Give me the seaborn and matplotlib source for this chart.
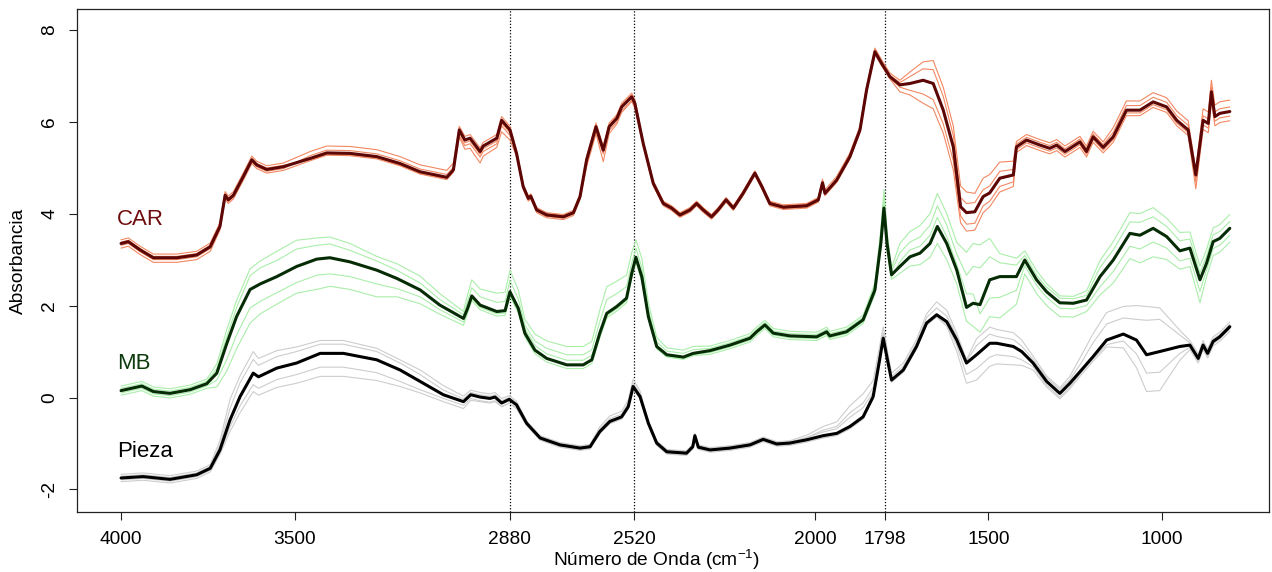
import numpy as np
import pandas as pd
import matplotlib.pyplot as plt
import seaborn as sns

# ---------- data ----------
# wavenumber (cm-1), mean absorbance, offsets of the single spectra from the mean

car_wn = [4000, 3979, 3945, 3907, 3839, 3782, 3743, 3715, 3700, 3691,
          3676, 3648, 3623, 3609, 3580, 3532, 3455, 3407, 3340, 3263,
          3196, 3138, 3061, 3042, 3025, 3009, 2994, 2965, 2956, 2917,
          2903, 2879, 2860, 2841, 2826, 2819, 2802, 2773, 2725, 2696,
          2677, 2658, 2631, 2610, 2593, 2571, 2557, 2528, 2519, 2495,
          2466, 2437, 2413, 2389, 2360, 2341, 2322, 2298, 2279, 2256,
          2235, 2207, 2173, 2153, 2130, 2091, 2024, 1990, 1978, 1971,
          1937, 1899, 1870, 1851, 1827, 1808, 1784, 1755, 1726, 1688,
          1659, 1630, 1601, 1580, 1563, 1539, 1515, 1496, 1467, 1428,
          1419, 1390, 1351, 1323, 1303, 1279, 1236, 1217, 1198, 1169,
          1140, 1102, 1063, 1025, 986, 957, 924, 902, 881, 866,
          857, 847, 833, 804]
car_mean = [3.35, 3.39, 3.21, 3.04, 3.04, 3.10, 3.28, 3.72, 4.40, 4.30,
            4.40, 4.80, 5.17, 5.06, 4.96, 5.02, 5.20, 5.32, 5.31, 5.24,
            5.09, 4.91, 4.79, 4.95, 5.82, 5.60, 5.64, 5.35, 5.47, 5.64,
            6.03, 5.82, 5.31, 4.59, 4.33, 4.38, 4.08, 3.97, 3.93, 4.02,
            4.37, 5.17, 5.89, 5.38, 5.89, 6.07, 6.32, 6.54, 6.40, 5.53,
            4.66, 4.22, 4.12, 3.97, 4.08, 4.22, 4.08, 3.93, 4.08, 4.30,
            4.12, 4.44, 4.88, 4.59, 4.22, 4.14, 4.17, 4.30, 4.67, 4.44,
            4.73, 5.24, 5.82, 6.69, 7.52, 7.27, 6.98, 6.80, 6.83, 6.90,
            6.83, 6.25, 5.45, 4.15, 4.02, 4.04, 4.37, 4.45, 4.77, 4.84,
            5.45, 5.60, 5.49, 5.42, 5.49, 5.35, 5.56, 5.35, 5.67, 5.44,
            5.67, 6.25, 6.25, 6.43, 6.32, 6.03, 5.82, 4.84, 6.03, 5.96,
            6.65, 6.11, 6.18, 6.22]
car_off_a = [0.08, 0.08, 0.08, 0.08, 0.08, 0.08, 0.08, 0.08, 0.08, 0.08,
             0.08, 0.08, 0.08, 0.08, 0.08, 0.08, 0.15, 0.15, 0.15, 0.15,
             0.15, 0.15, 0.15, 0.15, 0.08, 0.08, 0.08, 0.08, 0.08, 0.08,
             0.08, 0.08, 0.05, 0.05, 0.05, 0.05, 0.05, 0.05, 0.05, 0.05,
             0.05, 0.08, 0.08, 0.08, 0.08, 0.08, 0.08, 0.08, 0.08, 0.05,
             0.05, 0.05, 0.05, 0.05, 0.05, 0.05, 0.05, 0.05, 0.05, 0.05,
             0.05, 0.05, 0.05, 0.05, 0.05, 0.05, 0.05, 0.05, 0.08, 0.08,
             0.08, 0.08, 0.08, 0.08, 0.08, 0.08, 0.08, 0.10, 0.25, 0.40,
             0.50, 0.50, 0.45, 0.45, 0.45, 0.40, 0.40, 0.40, 0.35, 0.30,
             0.12, 0.12, 0.12, 0.12, 0.12, 0.12, 0.12, 0.12, 0.12, 0.12,
             0.20, 0.20, 0.20, 0.20, 0.20, 0.20, 0.20, 0.10, 0.25, 0.25,
             0.25, 0.25, 0.25, 0.25]
car_off_b = [-0.10, -0.10, -0.10, -0.10, -0.10, -0.10, -0.10, -0.08, -0.08, -0.08,
             -0.08, -0.08, -0.08, -0.08, -0.08, -0.08, -0.05, -0.05, -0.05, -0.05,
             -0.05, -0.05, -0.05, -0.05, -0.15, -0.20, -0.22, -0.25, -0.22, -0.20,
             -0.25, -0.22, -0.06, -0.06, -0.06, -0.06, -0.06, -0.06, -0.06, -0.06,
             -0.06, -0.15, -0.15, -0.25, -0.15, -0.12, -0.12, -0.10, -0.10, -0.05,
             -0.05, -0.05, -0.05, -0.05, -0.05, -0.05, -0.05, -0.05, -0.05, -0.05,
             -0.05, -0.05, -0.05, -0.05, -0.05, -0.05, -0.05, -0.05, -0.05, -0.05,
             -0.05, -0.05, -0.05, -0.05, -0.05, -0.05, -0.05, -0.15, -0.25, -0.50,
             -0.55, -0.50, -0.50, -0.35, -0.40, -0.40, -0.35, -0.30, -0.30, -0.25,
             -0.12, -0.12, -0.12, -0.12, -0.12, -0.12, -0.12, -0.12, -0.12, -0.12,
             -0.12, -0.12, -0.12, -0.12, -0.12, -0.12, -0.12, -0.30, -0.20, -0.20,
             -0.20, -0.20, -0.20, -0.20]
car_off_c = [-0.04, -0.04, -0.04, -0.04, -0.04, -0.04, -0.04, -0.04, -0.04, -0.04,
             -0.04, -0.04, -0.04, -0.04, -0.04, -0.04, 0.06, 0.06, 0.06, 0.06,
             0.06, 0.06, 0.06, 0.06, -0.12, -0.12, -0.12, -0.12, -0.12, -0.12,
             -0.12, -0.12, 0.03, 0.03, 0.03, 0.03, 0.03, 0.03, 0.03, 0.03,
             0.03, -0.08, -0.08, -0.08, -0.08, -0.08, -0.08, -0.08, -0.08, 0.03,
             0.03, 0.03, 0.03, 0.03, 0.03, 0.03, 0.03, 0.03, 0.03, 0.03,
             0.03, 0.03, 0.03, 0.03, 0.03, 0.03, 0.03, 0.03, 0.03, 0.03,
             0.03, 0.03, 0.03, 0.03, 0.03, 0.03, 0.03, 0.05, 0.15, 0.25,
             0.30, 0.30, 0.25, 0.20, 0.20, 0.20, 0.15, 0.15, 0.15, 0.12,
             0.06, 0.06, 0.06, 0.06, 0.06, 0.06, 0.06, 0.06, 0.06, 0.06,
             0.10, 0.10, 0.10, 0.10, 0.10, 0.10, 0.10, -0.15, 0.10, 0.10,
             0.10, 0.10, 0.10, 0.10]
car_off_d = [0.03, 0.03, 0.03, 0.03, 0.03, 0.03, 0.03, 0.03, 0.03, 0.03,
             0.03, 0.03, 0.03, 0.03, 0.03, 0.03, -0.03, -0.03, -0.03, -0.03,
             -0.03, -0.03, -0.03, -0.03, -0.06, -0.06, -0.06, -0.06, -0.06, -0.06,
             -0.06, -0.06, -0.03, -0.03, -0.03, -0.03, -0.03, -0.03, -0.03, -0.03,
             -0.03, 0.04, 0.04, 0.04, 0.04, 0.04, 0.04, 0.04, 0.04, -0.03,
             -0.03, -0.03, -0.03, -0.03, -0.03, -0.03, -0.03, -0.03, -0.03, -0.03,
             -0.03, -0.03, -0.03, -0.03, -0.03, -0.03, -0.03, -0.03, -0.03, -0.03,
             -0.03, -0.03, -0.03, -0.03, -0.03, -0.03, -0.03, -0.05, -0.15, -0.30,
             -0.35, -0.30, -0.30, -0.20, -0.25, -0.25, -0.20, -0.18, -0.18, -0.15,
             -0.06, -0.06, -0.06, -0.06, -0.06, -0.06, -0.06, -0.06, -0.06, -0.06,
             -0.06, -0.06, -0.06, -0.06, -0.06, -0.06, -0.06, 0.05, -0.10, -0.10,
             -0.10, -0.10, -0.10, -0.10]

mb_wn = [4000, 3940, 3907, 3859, 3801, 3753, 3724, 3695, 3667, 3628,
         3599, 3551, 3494, 3436, 3398, 3340, 3263, 3205, 3138, 3081,
         3013, 3001, 2989, 2965, 2917, 2893, 2879, 2855, 2836, 2807,
         2773, 2715, 2668, 2643, 2620, 2600, 2571, 2543, 2528, 2516,
         2499, 2480, 2456, 2427, 2379, 2351, 2302, 2245, 2187, 2168,
         2144, 2120, 2072, 1995, 1966, 1957, 1909, 1861, 1827, 1810,
         1801, 1792, 1779, 1755, 1726, 1697, 1668, 1647, 1620, 1591,
         1563, 1544, 1524, 1496, 1467, 1419, 1395, 1361, 1332, 1294,
         1255, 1217, 1178, 1140, 1092, 1063, 1025, 986, 948, 919,
         890, 871, 852, 833, 804]
mb_mean = [0.15, 0.25, 0.13, 0.09, 0.17, 0.30, 0.53, 1.18, 1.76, 2.35,
           2.47, 2.63, 2.85, 3.01, 3.04, 2.95, 2.77, 2.59, 2.34, 2.01,
           1.72, 1.94, 2.21, 2.01, 1.87, 1.89, 2.30, 1.94, 1.40, 1.03,
           0.85, 0.71, 0.71, 0.82, 1.40, 1.83, 1.98, 2.16, 2.70, 3.05,
           2.63, 1.76, 1.11, 0.93, 0.88, 0.96, 1.02, 1.14, 1.29, 1.43,
           1.58, 1.40, 1.34, 1.32, 1.43, 1.34, 1.43, 1.69, 2.34, 3.35,
           4.12, 3.35, 2.67, 2.85, 3.06, 3.14, 3.35, 3.72, 3.35, 2.77,
           1.96, 2.05, 2.02, 2.56, 2.63, 2.63, 2.99, 2.56, 2.30, 2.06,
           2.05, 2.12, 2.63, 2.99, 3.57, 3.53, 3.68, 3.50, 3.19, 3.25,
           2.56, 2.92, 3.39, 3.46, 3.68]
mb_off_a = [0.10, 0.10, 0.10, 0.10, 0.10, 0.10, 0.20, 0.30, 0.35, 0.45,
            0.50, 0.55, 0.57, 0.46, 0.45, 0.40, 0.30, 0.32, 0.30, 0.25,
            0.15, 0.30, 0.35, 0.35, 0.40, 0.40, 0.47, 0.40, 0.30, 0.35,
            0.38, 0.40, 0.40, 0.40, 0.50, 0.58, 0.55, 0.50, 0.45, 0.38,
            0.40, 0.30, 0.20, 0.15, 0.15, 0.15, 0.10, 0.10, 0.10, 0.10,
            0.10, 0.10, 0.10, 0.10, 0.10, 0.10, 0.10, 0.10, 0.15, 0.30,
            0.40, 0.25, 0.15, 0.50, 0.55, 0.60, 0.65, 0.72, 0.65, 0.60,
            1.20, 1.30, 1.30, 0.90, 0.50, 0.40, 0.20, 0.20, 0.18, 0.15,
            0.15, 0.20, 0.35, 0.40, 0.45, 0.47, 0.45, 0.40, 0.40, 0.35,
            0.30, 0.30, 0.30, 0.30, 0.30]
mb_off_b = [-0.10, -0.10, -0.10, -0.10, -0.10, -0.10, -0.30, -0.60, -0.70, -0.73,
            -0.65, -0.60, -0.58, -0.66, -0.62, -0.60, -0.58, -0.40, -0.30, -0.20,
            -0.15, -0.10, -0.10, -0.10, -0.10, -0.10, -0.10, -0.10, -0.08, -0.08,
            -0.08, -0.08, -0.08, -0.08, -0.10, -0.10, -0.10, -0.10, -0.10, -0.10,
            -0.10, -0.05, -0.05, -0.05, -0.05, -0.05, -0.08, -0.08, -0.08, -0.08,
            -0.08, -0.08, -0.08, -0.08, -0.08, -0.08, -0.08, -0.08, -0.10, -0.15,
            -0.20, -0.15, -0.10, -0.15, -0.20, -0.25, -0.30, -0.37, -0.35, -0.30,
            -0.30, -0.50, -0.60, -0.80, -0.90, -0.60, -0.30, -0.30, -0.30, -0.30,
            -0.30, -0.25, -0.40, -0.50, -0.55, -0.60, -0.62, -0.50, -0.40, -0.40,
            -0.50, -0.30, -0.30, -0.30, -0.30]
mb_off_c = [0.05, 0.05, 0.05, 0.05, 0.05, 0.05, 0.10, 0.15, 0.20, 0.30,
            0.35, 0.35, 0.38, 0.30, 0.30, 0.25, 0.20, 0.18, 0.15, 0.12,
            0.08, 0.15, 0.18, 0.18, 0.20, 0.20, 0.25, 0.20, 0.18, 0.20,
            0.22, 0.22, 0.22, 0.22, 0.25, 0.30, 0.28, 0.25, 0.22, 0.20,
            0.20, 0.15, 0.10, 0.08, 0.08, 0.08, 0.05, 0.05, 0.05, 0.05,
            0.05, 0.05, 0.05, 0.05, 0.05, 0.05, 0.05, 0.05, 0.08, 0.15,
            0.20, 0.12, 0.08, 0.30, 0.32, 0.35, 0.40, 0.45, 0.40, 0.35,
            0.70, 0.80, 0.80, 0.50, 0.30, 0.25, 0.10, 0.10, 0.10, 0.10,
            0.10, 0.10, 0.20, 0.22, 0.25, 0.28, 0.25, 0.22, 0.22, 0.20,
            0.15, 0.15, 0.15, 0.15, 0.15]
mb_off_d = [-0.05, -0.05, -0.05, -0.05, -0.05, -0.05, -0.15, -0.35, -0.40, -0.40,
            -0.38, -0.35, -0.35, -0.35, -0.35, -0.32, -0.30, -0.22, -0.15, -0.10,
            -0.08, -0.05, -0.05, -0.05, -0.05, -0.05, -0.05, -0.05, 0.10, 0.10,
            0.10, 0.10, 0.10, 0.10, -0.05, -0.05, -0.05, -0.05, -0.05, -0.05,
            -0.05, -0.03, -0.03, -0.03, -0.03, -0.03, -0.04, -0.04, -0.04, -0.04,
            -0.04, -0.04, -0.04, -0.04, -0.04, -0.04, -0.04, -0.04, -0.05, -0.08,
            -0.10, -0.08, -0.05, 0.10, 0.15, 0.15, 0.18, 0.20, 0.15, 0.12,
            0.30, 0.20, -0.20, -0.40, -0.45, -0.30, -0.12, -0.12, -0.12, -0.12,
            -0.12, -0.12, -0.22, -0.25, -0.28, -0.30, -0.30, -0.25, -0.22, -0.22,
            -0.25, -0.15, -0.15, -0.15, -0.15]

pieza_wn = [4000, 3936, 3859, 3782, 3743, 3715, 3686, 3657, 3619, 3604,
            3551, 3494, 3426, 3359, 3263, 3196, 3138, 3071, 3013, 2992,
            2965, 2937, 2922, 2903, 2881, 2860, 2831, 2792, 2735, 2677,
            2648, 2620, 2591, 2557, 2538, 2524, 2504, 2480, 2456, 2427,
            2370, 2352, 2346, 2336, 2302, 2245, 2187, 2149, 2110, 2072,
            2024, 1976, 1937, 1899, 1861, 1832, 1815, 1803, 1789, 1779,
            1745, 1707, 1678, 1649, 1620, 1591, 1563, 1534, 1496, 1476,
            1428, 1404, 1371, 1332, 1294, 1265, 1236, 1198, 1159, 1111,
            1073, 1044, 1006, 948, 919, 895, 881, 868, 852, 833,
            804]
pieza_mean = [-1.75, -1.72, -1.78, -1.68, -1.54, -1.14, -0.49, 0.02, 0.53, 0.45,
              0.64, 0.75, 0.96, 0.96, 0.82, 0.60, 0.35, 0.06, -0.09, 0.06,
              0.01, -0.02, 0.01, -0.12, -0.04, -0.16, -0.56, -0.88, -1.03, -1.10,
              -1.07, -0.74, -0.52, -0.42, -0.20, 0.24, 0.02, -0.56, -0.99, -1.18,
              -1.21, -1.07, -0.83, -1.08, -1.14, -1.10, -1.03, -0.91, -1.01, -0.99,
              -0.92, -0.83, -0.78, -0.63, -0.42, 0.02, 0.75, 1.29, 0.75, 0.38,
              0.60, 1.11, 1.62, 1.80, 1.65, 1.25, 0.75, 0.93, 1.18, 1.18,
              1.11, 1.00, 0.75, 0.35, 0.09, 0.31, 0.56, 0.89, 1.25, 1.38,
              1.25, 0.93, 1.00, 1.11, 1.14, 0.85, 1.14, 0.96, 1.22, 1.32,
              1.54]
pieza_off_a = [0.08, 0.08, 0.08, 0.08, 0.08, 0.20, 0.45, 0.45, 0.47, 0.40,
               0.38, 0.35, 0.28, 0.28, 0.25, 0.22, 0.25, 0.20, 0.12, 0.10,
               0.10, 0.10, 0.10, 0.10, 0.08, 0.08, 0.05, 0.05, 0.05, 0.05,
               0.05, 0.10, 0.12, 0.12, 0.15, 0.16, 0.12, 0.05, 0.05, 0.05,
               0.05, 0.05, 0.05, 0.05, 0.05, 0.05, 0.05, 0.05, 0.05, 0.05,
               0.10, 0.20, 0.25, 0.45, 0.50, 0.35, 0.30, 0.25, 0.20, 0.15,
               0.15, 0.15, 0.20, 0.28, 0.25, 0.15, 0.07, 0.35, 0.35, 0.30,
               0.30, 0.25, 0.15, 0.12, 0.12, 0.15, 0.30, 0.50, 0.60, 0.60,
               0.75, 1.05, 0.95, 0.35, 0.10, 0.10, 0.10, 0.10, 0.10, 0.10,
               0.10]
pieza_off_b = [-0.08, -0.08, -0.08, -0.08, -0.08, -0.10, -0.25, -0.35, -0.40, -0.40,
               -0.42, -0.44, -0.50, -0.50, -0.45, -0.36, -0.25, -0.15, -0.15, -0.12,
               -0.10, -0.10, -0.10, -0.08, -0.08, -0.08, -0.05, -0.05, -0.05, -0.05,
               -0.05, -0.05, -0.05, -0.05, -0.05, -0.05, -0.05, -0.05, -0.05, -0.05,
               -0.05, -0.05, -0.05, -0.05, -0.05, -0.05, -0.05, -0.05, -0.05, -0.05,
               -0.05, -0.05, -0.05, -0.05, -0.05, -0.05, -0.05, -0.05, -0.05, -0.05,
               -0.05, -0.05, -0.05, -0.05, -0.10, -0.25, -0.44, -0.55, -0.50, -0.45,
               -0.40, -0.30, -0.15, -0.12, -0.12, -0.12, -0.10, -0.10, -0.15, -0.30,
               -0.60, -0.80, -0.85, -0.30, -0.10, -0.10, -0.10, -0.10, -0.10, -0.10,
               -0.10]
pieza_off_c = [0.04, 0.04, 0.04, 0.04, 0.04, 0.10, 0.25, 0.30, 0.30, 0.25,
               0.25, 0.25, 0.20, 0.20, 0.18, 0.15, 0.15, 0.10, 0.06, 0.05,
               0.05, 0.05, 0.05, 0.05, 0.04, 0.04, 0.03, 0.03, 0.03, 0.03,
               0.03, 0.05, 0.06, 0.06, 0.08, 0.08, 0.06, 0.03, 0.03, 0.03,
               0.03, 0.03, 0.03, 0.03, 0.03, 0.03, 0.03, 0.03, 0.03, 0.03,
               0.05, 0.12, 0.15, 0.30, 0.30, 0.20, 0.15, 0.12, 0.10, 0.08,
               0.08, 0.08, 0.12, 0.15, 0.12, 0.08, 0.04, 0.20, 0.20, 0.15,
               0.15, 0.12, 0.08, 0.08, 0.08, 0.08, 0.15, 0.30, 0.35, 0.35,
               0.45, 0.75, 0.70, 0.25, 0.05, 0.05, 0.05, 0.05, 0.05, 0.05,
               0.05]
pieza_off_d = [-0.04, -0.04, -0.04, -0.04, -0.04, -0.05, -0.15, -0.20, -0.25, -0.25,
               -0.25, -0.25, -0.30, -0.30, -0.28, -0.25, -0.18, -0.08, -0.08, -0.08,
               -0.08, -0.08, -0.08, -0.08, -0.08, -0.08, -0.03, -0.03, -0.03, -0.03,
               -0.03, -0.03, -0.03, -0.03, -0.03, -0.03, -0.03, -0.03, -0.03, -0.03,
               -0.03, -0.03, -0.03, -0.03, -0.03, -0.03, -0.03, -0.03, -0.03, -0.03,
               0.05, 0.08, 0.10, 0.20, 0.20, 0.10, 0.08, 0.06, 0.05, 0.04,
               -0.03, -0.03, -0.03, -0.03, -0.05, -0.12, -0.25, -0.30, -0.30, -0.25,
               -0.22, -0.18, -0.08, -0.08, -0.08, -0.08, -0.05, -0.05, -0.10, -0.15,
               -0.30, -0.40, -0.45, -0.15, -0.05, -0.05, -0.05, -0.05, -0.05, -0.05,
               -0.05]

marked_wn = [2880, 2520, 1798]
xtick_vals = [4000, 3500, 2880, 2520, 2000, 1798, 1500, 1000]
ytick_vals = [-2, 0, 2, 4, 6, 8]

# ---------- styling ----------
spectra = {
    "CAR": (car_wn, car_mean, [car_off_a, car_off_b, car_off_c, car_off_d]),
    "MB": (mb_wn, mb_mean, [mb_off_a, mb_off_b, mb_off_c, mb_off_d]),
    "Pieza": (pieza_wn, pieza_mean, [pieza_off_a, pieza_off_b, pieza_off_c, pieza_off_d]),
}
mean_colors = {"CAR": "#5c0606", "MB": "#062c06", "Pieza": "#000000"}
rep_colors = {"CAR": "#f28862", "MB": "#aaeeaa", "Pieza": "#cdcdcd"}
label_colors = {"CAR": "#6e0c0c", "MB": "#0c3a0c", "Pieza": "#000000"}
label_pos = {"CAR": (4012, 3.87), "MB": (4012, 0.75), "Pieza": (4012, -1.17)}

# ---------- long tables for seaborn ----------
rep_frames, mean_frames = [], []
for g, (wn, mean, offs) in spectra.items():
    mean = np.asarray(mean)
    for k, off in enumerate(offs):
        rep_frames.append(pd.DataFrame({"wn": wn, "absorb": mean + np.asarray(off),
                                        "group": g, "rep": k}))
    mean_frames.append(pd.DataFrame({"wn": wn, "absorb": mean, "group": g}))
reps = pd.concat(rep_frames, ignore_index=True)
means = pd.concat(mean_frames, ignore_index=True)

sns.set_theme(style="ticks")
plt.rcParams["font.family"] = ["Liberation Sans", "DejaVu Sans"]
plt.rcParams["axes.unicode_minus"] = False
plt.rcParams["mathtext.fontset"] = "custom"
plt.rcParams["mathtext.rm"] = "Liberation Sans"
plt.rcParams["mathtext.default"] = "regular"
plt.rcParams["text.color"] = "black"
plt.rcParams["axes.labelcolor"] = "black"
plt.rcParams["xtick.labelcolor"] = "black"
plt.rcParams["ytick.labelcolor"] = "black"

fig = plt.figure(figsize=(12.72, 5.72), dpi=100)
ax = fig.add_axes([77 / 1272, 60 / 572, 1192 / 1272, 503 / 572])

sns.lineplot(data=reps, x="wn", y="absorb", hue="group", units="rep", estimator=None,
             palette=rep_colors, lw=0.8, sort=False, legend=False, ax=ax)
sns.lineplot(data=means, x="wn", y="absorb", hue="group", estimator=None,
             palette=mean_colors, lw=2.2, sort=False, legend=False, ax=ax)

for w in marked_wn:
    ax.axvline(w, color="black", ls=(0, (1, 1.5)), lw=0.9, zorder=0)

for g, (x, y) in label_pos.items():
    ax.text(x, y, g, color=label_colors[g], fontsize=16, ha="left", va="center")

ax.set_xlim(4127, 691)
ax.set_ylim(-2.49, 8.45)
ax.set_xticks(xtick_vals)
ax.set_xticklabels([str(v) for v in xtick_vals])
ax.set_yticks(ytick_vals)
ax.set_yticklabels([str(v) for v in ytick_vals])
for lab in ax.get_yticklabels():
    lab.set_rotation(90)
    lab.set_va("center")
ax.tick_params(axis="both", direction="out", length=5.5, width=0.8,
               color="#222222", labelcolor="black", labelsize=13.8, pad=8)
for s in ax.spines.values():
    s.set_visible(True)
    s.set_color("#222222")
    s.set_linewidth(0.9)

ax.set_xlabel("Número de Onda (cm$^{-1}$)", fontsize=13.8, color="black")
ax.xaxis.set_label_coords(0.4866, -0.072)
ax.set_ylabel("Absorbancia", fontsize=13.8, color="black")
ax.yaxis.set_label_coords(-0.042, 0.5)

fig.savefig("out.png", dpi=100)
